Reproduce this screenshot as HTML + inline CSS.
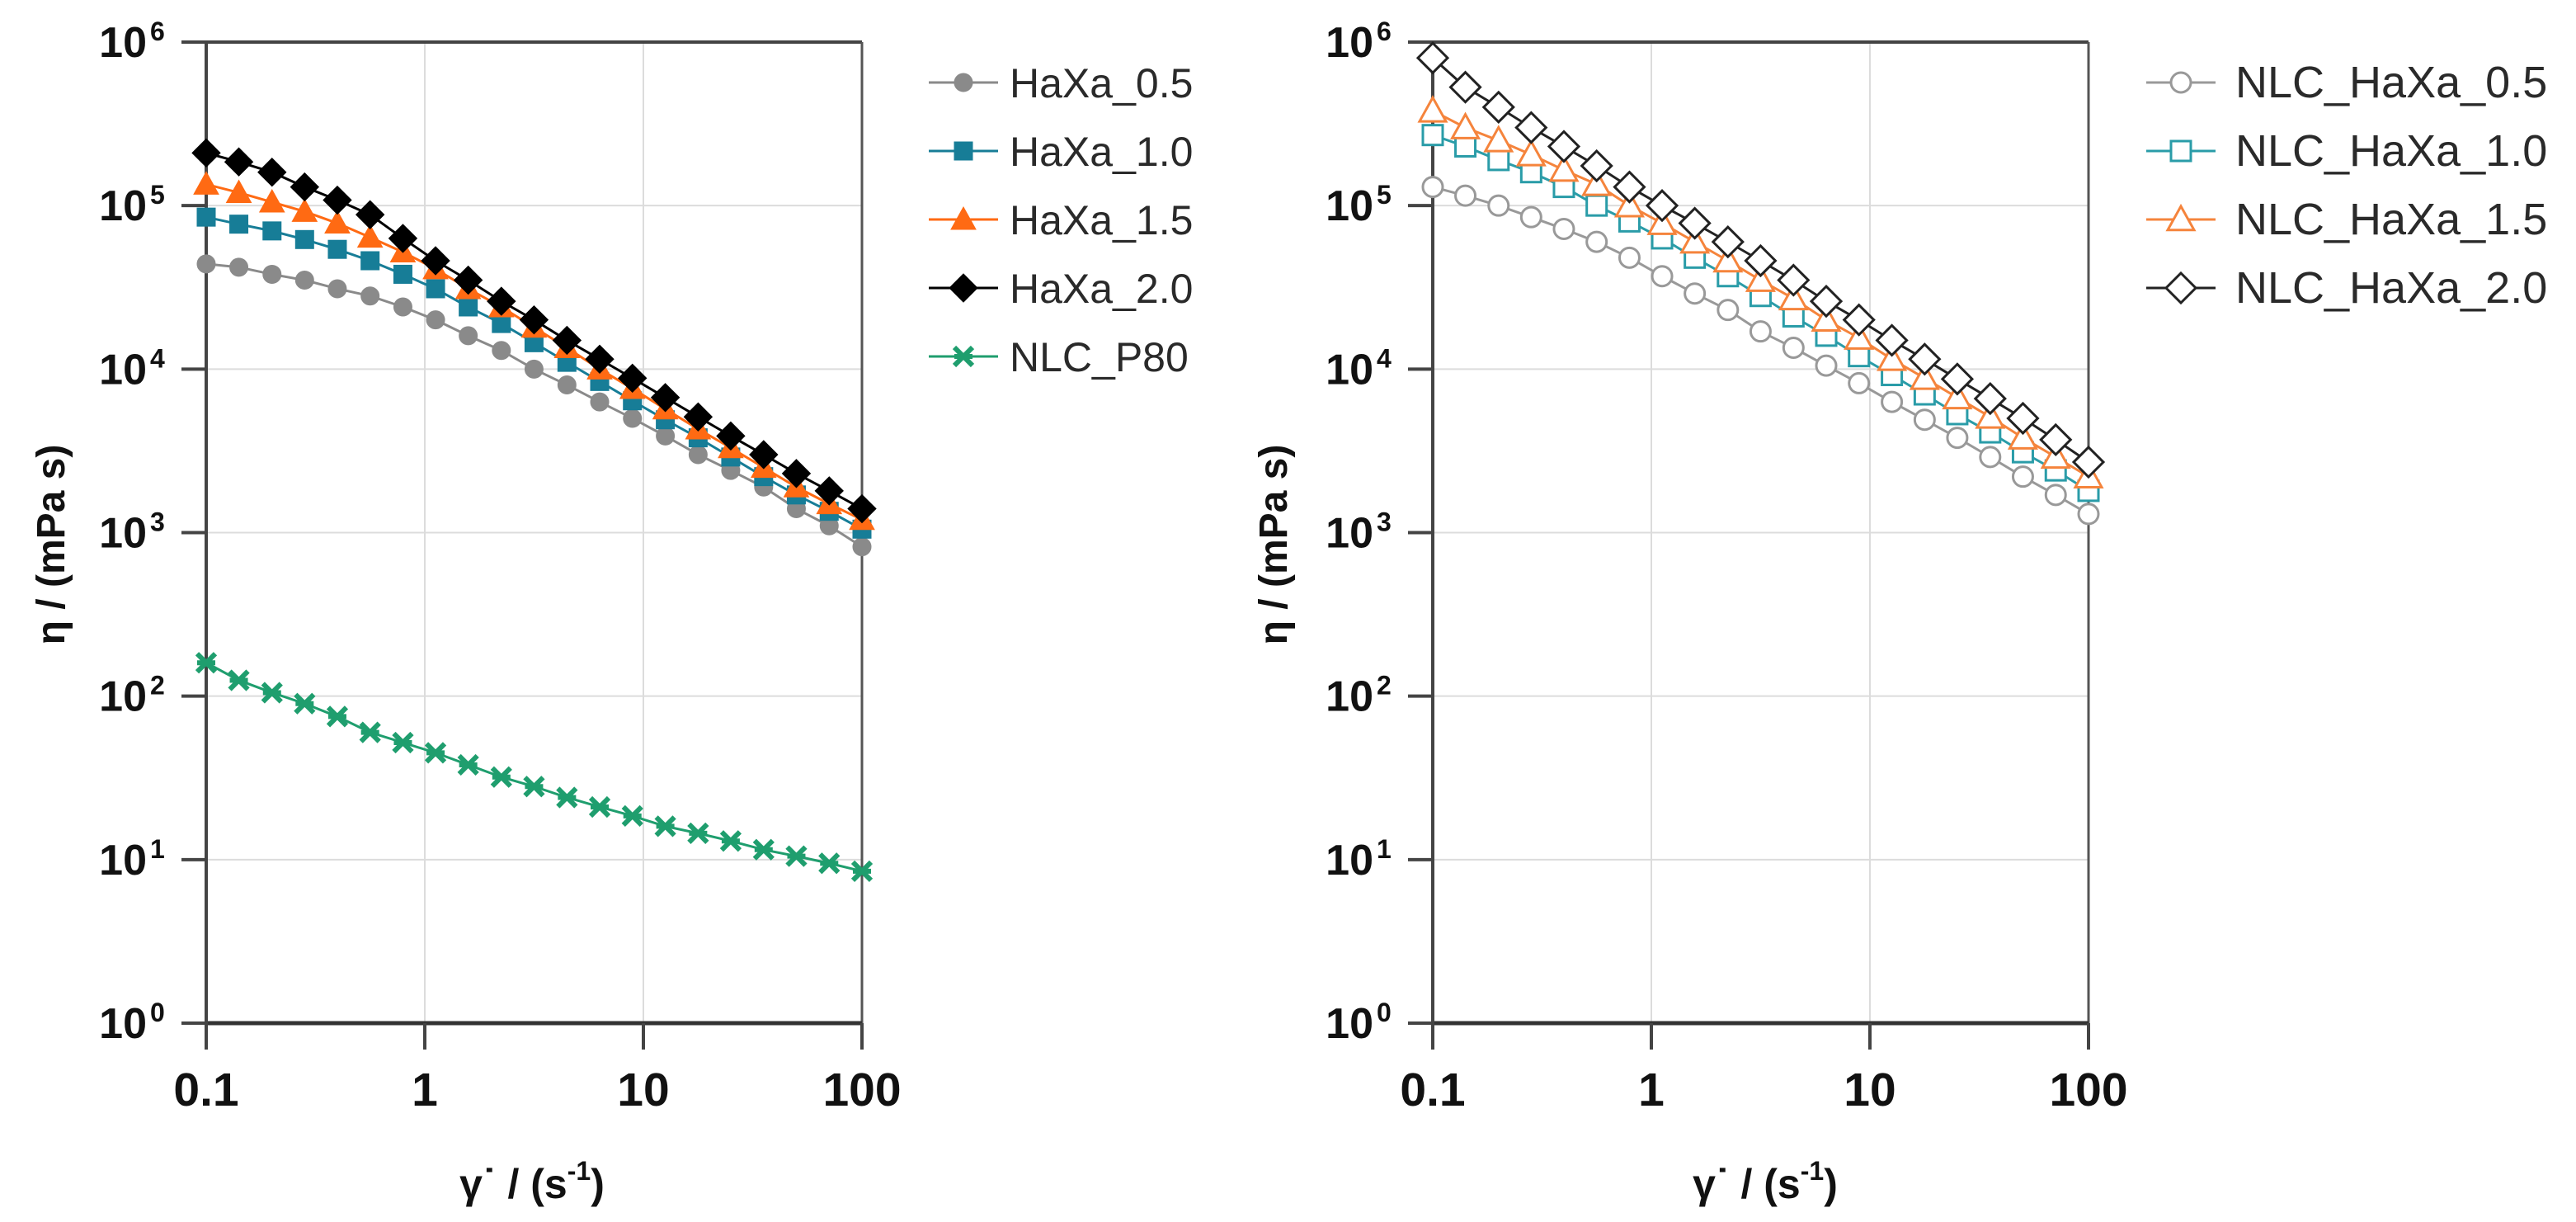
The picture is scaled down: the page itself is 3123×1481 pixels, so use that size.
<!DOCTYPE html>
<html><head><meta charset="utf-8">
<style>
html,body{margin:0;padding:0;background:#fff;}
svg{display:block;}
text{font-family:"Liberation Sans",Arial,sans-serif;}
</style></head>
<body>
<svg id="fig" xmlns="http://www.w3.org/2000/svg" width="3123" height="1481" viewBox="0 0 3123 1481"></svg>
<script>
const shearRates = [0.1,0.141,0.2,0.282,0.398,0.562,0.794,1.12,1.58,2.24,3.16,4.47,6.31,8.91,12.6,17.8,25.1,35.5,50.1,70.8,100];
const haxa05 = [44000,42000,38000,35000,31000,28000,24000,20000,16000,13000,10000,8000,6300,5000,3900,3000,2400,1900,1400,1100,820];
const haxa10 = [85000,77000,70000,62000,54000,46000,38000,31000,24000,19000,14500,11000,8400,6400,4900,3800,2900,2200,1700,1350,1050];
const haxa15 = [135000,120000,105000,92000,78000,64000,52000,41000,31000,24000,18000,13500,10000,7600,5700,4300,3300,2500,1900,1500,1200];
const haxa20 = [210000,185000,160000,130000,108000,88000,63000,46000,35000,26000,20000,15000,11500,8800,6700,5100,3900,3000,2300,1800,1400];
const nlcP80 = [160,125,105,90,75,60,52,45,38,32,28,24,21,18.5,16,14.5,13,11.5,10.5,9.5,8.5];
const nlcHaxa05 = [130000,115000,100000,85000,72000,60000,48000,37000,29000,23000,17000,13500,10500,8200,6300,4900,3800,2900,2200,1700,1300];
const nlcHaxa10 = [270000,230000,190000,160000,130000,100000,80000,63000,48000,37000,28000,21000,16000,12000,9200,7000,5300,4100,3100,2400,1800];
const nlcHaxa15 = [380000,300000,250000,205000,165000,135000,100000,78000,60000,46000,35000,27000,20000,15500,11500,8800,6700,5100,3800,2900,2200];
const nlcHaxa20 = [800000,530000,400000,300000,230000,175000,130000,100000,78000,60000,46000,35000,26000,20000,15000,11500,8700,6600,5000,3700,2700];
const xTickValues = [0.1,1,10,100];
const xTickLabels = ["0.1","1","10","100"];
const yTickExponents = [0,1,2,3,4,5,6];

const NS="http://www.w3.org/2000/svg";
const svg=document.getElementById('fig');
function mk(tag,attrs,parent){const e=document.createElementNS(NS,tag);for(const k in attrs)e.setAttribute(k,attrs[k]);(parent||svg).appendChild(e);return e;}

const TOP=51, BOT=1240;
function makeY(){return v=>BOT-(Math.log10(v)-0)/6*(BOT-TOP);}
function makeX(x0,x1){return v=>x0+(Math.log10(v)+1)/3*(x1-x0);}

function marker(g,shape,cx,cy,color,filled){
  const fill=filled?color:'#fff', sw=filled?1:3;
  let e;
  if(shape==='circle'){e=mk('circle',{cx:cx,cy:cy,r:filled?11:12,fill:fill,stroke:color,'stroke-width':sw},g);}
  else if(shape==='square'){const s=filled?11:12;e=mk('rect',{x:cx-s,y:cy-s,width:2*s,height:2*s,fill:fill,stroke:color,'stroke-width':sw},g);}
  else if(shape==='triangle'){const s=filled?15:16;e=mk('polygon',{points:`${cx},${cy-s} ${cx+s},${cy+s*0.8} ${cx-s},${cy+s*0.8}`,fill:fill,stroke:color,'stroke-width':sw},g);}
  else if(shape==='diamond'){const s=filled?17:18;e=mk('polygon',{points:`${cx},${cy-s} ${cx+s},${cy} ${cx},${cy+s} ${cx-s},${cy}`,fill:fill,stroke:color,'stroke-width':sw},g);}
  else if(shape==='cross'){const s=11;e=mk('path',{d:`M${cx-s},${cy-s}L${cx+s},${cy+s}M${cx+s},${cy-s}L${cx-s},${cy+s}M${cx-s},${cy}L${cx+s},${cy}`,stroke:color,'stroke-width':6,fill:'none'},g);}
  return e;
}

function panel(id,x0,x1,series,legendX,textX,legendFont,titleX,ylabelX){
  const X=makeX(x0,x1), Y=makeY();
  const g=mk('g',{});
  
  
  xTickValues.forEach(v=>{const l=mk('line',{x1:X(v),x2:X(v),y1:TOP,y2:BOT,stroke:'#dcdcdc','stroke-width':2},g);
    
    });
  yTickExponents.forEach(p=>{const l=mk('line',{x1:x0,x2:x1,y1:Y(Math.pow(10,p)),y2:Y(Math.pow(10,p)),stroke:'#dcdcdc','stroke-width':2},g);
    
    });
  mk('line',{x1:x0,x2:x1,y1:TOP,y2:TOP,stroke:'#444','stroke-width':4},g);
  mk('line',{x1:x1,x2:x1,y1:TOP,y2:BOT,stroke:'#555','stroke-width':3},g);
  const xa=mk('line',{x1:x0,x2:x1,y1:BOT,y2:BOT,stroke:'#333','stroke-width':5},g);
  
  
  const ya=mk('line',{x1:x0,x2:x0,y1:TOP,y2:BOT+32,stroke:'#444','stroke-width':4},g);
  
  
  xTickValues.forEach((v,i)=>{
    mk('line',{x1:X(v),x2:X(v),y1:BOT,y2:BOT+32,stroke:'#444','stroke-width':4},g);
    const t=mk('text',{x:X(v),y:1340,'text-anchor':'middle','font-size':57,'font-weight':'bold',fill:'#111'},g);
    t.textContent=xTickLabels[i];
    
    
  });
  yTickExponents.forEach(p=>{
    const y=Y(Math.pow(10,p));
    mk('line',{x1:x0-30,x2:x0,y1:y,y2:y,stroke:'#444','stroke-width':4},g);
    const t=mk('text',{x:x0-72,y:y+18,'text-anchor':'end','font-size':52,'font-weight':'bold',fill:'#111'},g);
    t.textContent='10';
    
    
    const s=mk('text',{x:x0-68,y:y-2,'text-anchor':'start','font-size':32,'font-weight':'bold',fill:'#111'},g);
    s.textContent=String(p);
    
    
  });
  series.forEach((s,si)=>{
    const sg=mk('g',{},g);
    
    
    const pts=shearRates.map((x,i)=>X(x)+','+Y(s.values[i])).join(' ');
    mk('polyline',{points:pts,fill:'none',stroke:s.color,'stroke-width':3},sg);
    shearRates.forEach((x,i)=>{const m=marker(sg,s.shape,X(x),Y(s.values[i]),s.color,s.filled);
      
      });
    const ly=100+si*83;
    const lg=mk('g',{},g);
    
    
    mk('line',{x1:legendX-42,x2:legendX+42,y1:ly,y2:ly,stroke:s.color,'stroke-width':3},lg);
    marker(lg,s.shape,legendX,ly,s.color,s.filled);
    const t=mk('text',{x:textX,y:ly+18,'font-size':legendFont,fill:'#2a2a2a'},lg);
    t.textContent=s.name;
  });
  const xt=mk('text',{x:titleX,y:1452,'text-anchor':'middle','font-size':50,'font-weight':'bold',fill:'#111'},g);
  
  
  xt.innerHTML='γ˙ / (s<tspan dy="-22" font-size="32">-1</tspan><tspan dy="22">)</tspan>';
  const yt=mk('text',{x:0,y:0,'text-anchor':'middle','font-size':48,'font-weight':'bold',fill:'#111',transform:`translate(${ylabelX},660) rotate(-90)`},g);
  
  
  yt.textContent='η / (mPa s)';
}

panel('left-chart',250,1045,[
  {name:'HaXa_0.5',values:haxa05,color:'#8a8a8a',shape:'circle',filled:true},
  {name:'HaXa_1.0',values:haxa10,color:'#177d97',shape:'square',filled:true},
  {name:'HaXa_1.5',values:haxa15,color:'#ff6a13',shape:'triangle',filled:true},
  {name:'HaXa_2.0',values:haxa20,color:'#000000',shape:'diamond',filled:true},
  {name:'NLC_P80',values:nlcP80,color:'#1f9e6e',shape:'cross',filled:true}
],1168,1224,50,645,78);

panel('right-chart',1737,2532,[
  {name:'NLC_HaXa_0.5',values:nlcHaxa05,color:'#999999',shape:'circle',filled:false},
  {name:'NLC_HaXa_1.0',values:nlcHaxa10,color:'#2a9ca8',shape:'square',filled:false},
  {name:'NLC_HaXa_1.5',values:nlcHaxa15,color:'#f5843c',shape:'triangle',filled:false},
  {name:'NLC_HaXa_2.0',values:nlcHaxa20,color:'#222222',shape:'diamond',filled:false}
],2644,2710,54,2140,1560);
</script>
</body></html>
